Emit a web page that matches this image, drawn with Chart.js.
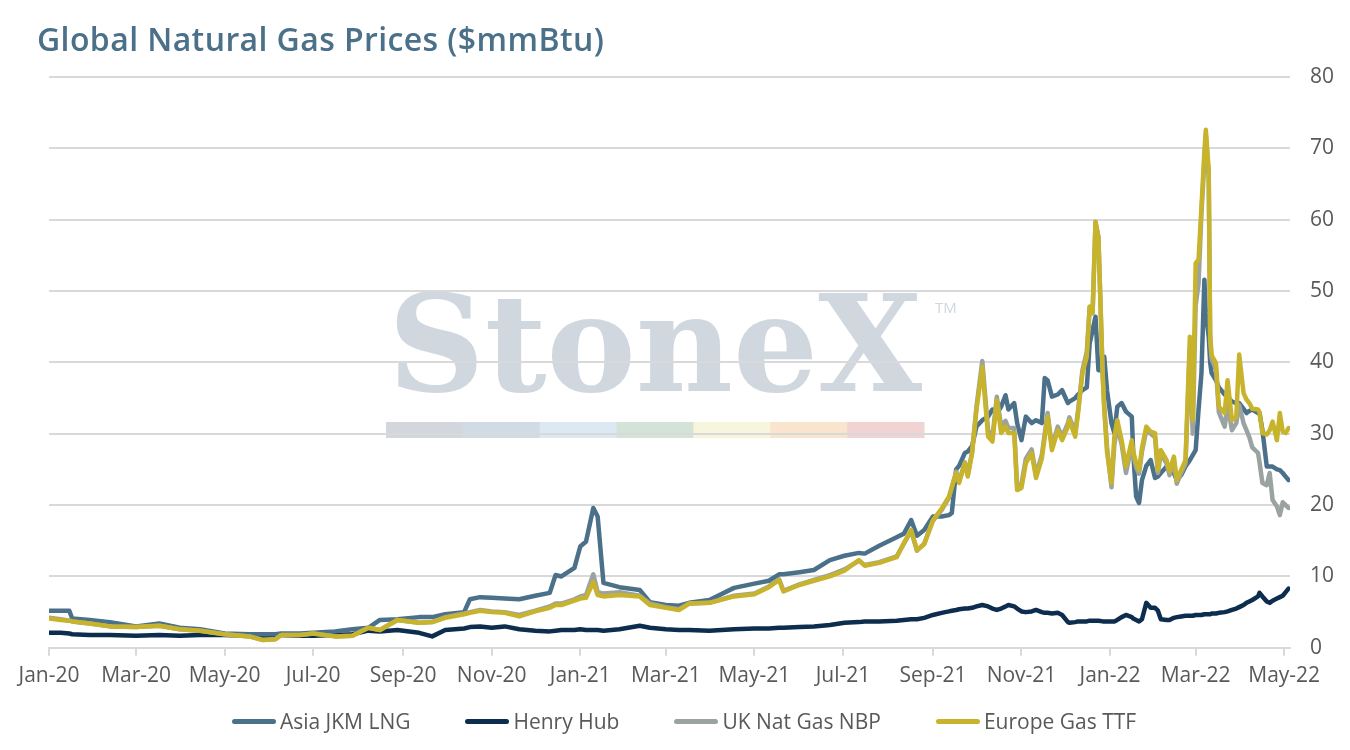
<!DOCTYPE html>
<html>
<head>
<meta charset="utf-8">
<title>Global Natural Gas Prices</title>
<script src="https://cdn.jsdelivr.net/npm/chart.js@4.4.1/dist/chart.umd.min.js"></script>
<style>
    html, body { margin: 0; padding: 0; background: #fff; }
    #wrap { position: relative; width: 1350px; height: 750px; overflow: hidden; }
    #title { position: absolute; left: 37px; top: 17px; font: 600 32px "Open Sans"; letter-spacing: 0.4px; color: #4b7089; white-space: nowrap; }
    #legend { position: absolute; left: 0; width: 1368px; top: 707px; display: flex; justify-content: center; gap: 55px; font: 21px "Open Sans"; color: #595959; }
    #legend .item { display: flex; align-items: center; }
    #legend .swatch { width: 44px; height: 5px; border-radius: 3px; margin-right: 4px; }
</style>
</head>
<body>
<div id="wrap">
    <canvas id="gasChart" width="1350" height="750"></canvas>
    <div id="title">Global Natural Gas Prices ($mmBtu)</div>
    <div id="legend"></div>
</div>
<script>
// tick marks on the date axis
const tickDates = ["2020-01-01", "2020-03-01", "2020-05-01", "2020-07-01", "2020-09-01", "2020-11-01",
    "2021-01-01", "2021-03-01", "2021-05-01", "2021-07-01", "2021-09-01", "2021-11-01",
    "2022-01-01", "2022-03-01", "2022-05-01"];
const tickLabels = ["Jan-20", "Mar-20", "May-20", "Jul-20", "Sep-20", "Nov-20",
    "Jan-21", "Mar-21", "May-21", "Jul-21", "Sep-21", "Nov-21",
    "Jan-22", "Mar-22", "May-22"];

// observation dates (shared by all four series)
const dates = [
    "2020-01-01", "2020-01-09", "2020-01-15", "2020-01-17", "2020-01-29", "2020-02-12", "2020-03-01", "2020-03-17", "2020-03-31", "2020-04-14",
    "2020-05-01", "2020-05-18", "2020-05-27", "2020-06-05", "2020-06-09", "2020-06-22", "2020-07-01", "2020-07-16", "2020-07-28", "2020-08-08",
    "2020-08-16", "2020-08-28", "2020-09-12", "2020-09-21", "2020-09-30", "2020-10-13", "2020-10-17", "2020-10-24", "2020-11-01", "2020-11-10",
    "2020-11-20", "2020-12-01", "2020-12-11", "2020-12-15", "2020-12-19", "2020-12-28", "2021-01-01", "2021-01-05", "2021-01-10", "2021-01-13",
    "2021-01-17", "2021-01-28", "2021-02-11", "2021-02-18", "2021-03-01", "2021-03-10", "2021-03-17", "2021-03-31", "2021-04-17", "2021-05-01",
    "2021-05-11", "2021-05-18", "2021-05-21", "2021-06-01", "2021-06-11", "2021-06-22", "2021-07-02", "2021-07-12", "2021-07-16", "2021-07-26",
    "2021-08-07", "2021-08-12", "2021-08-17", "2021-08-21", "2021-08-26", "2021-09-01", "2021-09-07", "2021-09-12", "2021-09-14", "2021-09-17",
    "2021-09-19", "2021-09-23", "2021-09-25", "2021-09-28", "2021-10-01", "2021-10-05", "2021-10-09", "2021-10-12", "2021-10-15", "2021-10-18",
    "2021-10-21", "2021-10-23", "2021-10-27", "2021-10-29", "2021-11-01", "2021-11-04", "2021-11-08", "2021-11-11", "2021-11-15", "2021-11-17",
    "2021-11-19", "2021-11-22", "2021-11-26", "2021-11-29", "2021-12-03", "2021-12-04", "2021-12-08", "2021-12-10", "2021-12-13", "2021-12-16",
    "2021-12-18", "2021-12-20", "2021-12-22", "2021-12-24", "2021-12-27", "2021-12-28", "2021-12-30", "2022-01-02", "2022-01-04", "2022-01-06",
    "2022-01-09", "2022-01-12", "2022-01-16", "2022-01-17", "2022-01-19", "2022-01-21", "2022-01-23", "2022-01-26", "2022-01-29", "2022-02-01",
    "2022-02-03", "2022-02-05", "2022-02-09", "2022-02-11", "2022-02-14", "2022-02-16", "2022-02-19", "2022-02-22", "2022-02-25", "2022-02-27",
    "2022-03-01", "2022-03-03", "2022-03-05", "2022-03-07", "2022-03-08", "2022-03-10", "2022-03-11", "2022-03-12", "2022-03-15", "2022-03-17",
    "2022-03-21", "2022-03-23", "2022-03-26", "2022-03-29", "2022-03-31", "2022-04-03", "2022-04-05", "2022-04-07", "2022-04-09", "2022-04-13",
    "2022-04-14", "2022-04-16", "2022-04-19", "2022-04-21", "2022-04-23", "2022-04-26", "2022-04-28", "2022-04-30", "2022-05-02", "2022-05-04"
];

// $/mmBtu
const asiaJkm = [
    5.2, 5.2, 5.2, 4.1, 3.9, 3.6, 3.0, 3.4, 2.8, 2.6,
    2.0, 1.9, 1.9, 1.9, 2.0, 2.0, 2.1, 2.3, 2.6, 2.8,
    3.9, 4.0, 4.3, 4.3, 4.7, 5.0, 6.8, 7.1, 7.0, 6.9,
    6.8, 7.3, 7.7, 10.2, 10.0, 11.2, 14.2, 14.9, 19.6, 18.4,
    9.1, 8.5, 8.1, 6.4, 6.0, 5.9, 6.3, 6.7, 8.4, 9.0,
    9.4, 10.3, 10.3, 10.6, 10.9, 12.3, 12.9, 13.3, 13.2, 14.3,
    15.5, 16.0, 17.9, 15.7, 16.5, 18.4, 18.4, 18.6, 18.9, 25.0,
    25.5, 27.3, 27.5, 28.3, 31.0, 31.9, 32.4, 33.4, 32.8, 33.8,
    35.4, 33.4, 34.3, 31.5, 29.1, 32.4, 31.5, 31.9, 31.5, 37.8,
    37.5, 35.2, 35.5, 36.1, 34.3, 34.5, 35.0, 35.5, 36.1, 36.5,
    42.7, 44.5, 46.4, 38.9, 38.9, 40.8, 36.0, 31.5, 30.1, 33.8,
    34.3, 33.1, 32.4, 27.3, 21.2, 20.3, 23.5, 25.5, 26.3, 23.8,
    24.0, 24.5, 25.4, 25.0, 24.5, 23.5, 24.2, 25.4, 26.3, 27.0,
    27.7, 33.4, 38.5, 51.6, 47.0, 43.6, 40.0, 38.5, 37.5, 36.5,
    35.5, 35.2, 34.5, 34.3, 34.3, 33.5, 32.9, 33.2, 33.4, 32.9,
    32.9, 30.5, 25.4, 25.4, 25.4, 25.0, 24.9, 24.5, 24.0, 23.5
];
const henryHub = [
    2.1, 2.1, 2.0, 1.9, 1.8, 1.8, 1.7, 1.8, 1.7, 1.8,
    1.8, 1.7, 1.6, 1.8, 1.8, 1.7, 1.7, 1.8, 1.9, 2.4,
    2.3, 2.5, 2.1, 1.6, 2.5, 2.7, 2.9, 3.0, 2.8, 3.0,
    2.6, 2.4, 2.3, 2.4, 2.5, 2.5, 2.6, 2.5, 2.5, 2.5,
    2.4, 2.6, 3.1, 2.8, 2.6, 2.5, 2.5, 2.4, 2.6, 2.7,
    2.7, 2.8, 2.8, 2.9, 3.0, 3.2, 3.5, 3.6, 3.7, 3.7,
    3.8, 3.9, 4.0, 4.0, 4.2, 4.6, 4.9, 5.1, 5.2, 5.3,
    5.4, 5.5, 5.5, 5.6, 5.8, 6.0, 5.8, 5.5, 5.3, 5.5,
    5.8, 6.0, 5.8, 5.5, 5.1, 5.0, 5.1, 5.3, 5.0, 4.9,
    4.9, 4.8, 4.9, 4.6, 3.6, 3.5, 3.6, 3.7, 3.7, 3.7,
    3.8, 3.8, 3.8, 3.8, 3.7, 3.7, 3.7, 3.7, 3.7, 3.9,
    4.3, 4.6, 4.3, 4.1, 3.9, 3.7, 4.0, 6.3, 5.6, 5.6,
    5.2, 4.0, 3.9, 3.9, 4.2, 4.3, 4.4, 4.5, 4.5, 4.5,
    4.6, 4.6, 4.6, 4.7, 4.7, 4.7, 4.7, 4.8, 4.8, 4.9,
    5.0, 5.1, 5.3, 5.5, 5.7, 6.0, 6.3, 6.5, 6.7, 7.2,
    7.7, 7.2, 6.5, 6.3, 6.6, 6.9, 7.1, 7.3, 7.8, 8.3
];
const ukNbp = [
    4.2, 4.0, 3.8, 3.7, 3.4, 3.0, 2.9, 3.1, 2.6, 2.4,
    1.9, 1.6, 1.1, 1.2, 1.8, 1.8, 2.0, 1.6, 1.7, 2.8,
    2.5, 3.9, 3.5, 3.6, 4.3, 4.8, 5.0, 5.3, 5.1, 5.0,
    4.6, 5.2, 5.8, 6.2, 6.2, 6.8, 7.2, 7.4, 10.3, 7.8,
    7.6, 7.8, 7.3, 6.2, 5.7, 5.4, 6.2, 6.3, 7.3, 7.6,
    8.6, 9.6, 8.0, 8.9, 9.5, 10.2, 11.0, 12.2, 11.6, 12.0,
    12.8, 14.6, 16.4, 13.6, 14.6, 17.8, 19.3, 21.0, 22.5, 24.7,
    23.3, 26.0, 24.3, 27.5, 33.8, 40.2, 30.5, 29.5, 35.2, 31.0,
    31.8, 30.8, 30.8, 22.6, 23.0, 26.5, 27.8, 24.3, 27.0, 30.0,
    32.9, 28.2, 31.0, 29.6, 31.5, 32.3, 30.2, 33.3, 38.9, 41.5,
    47.8, 46.9, 59.7, 57.6, 38.0, 34.0, 28.0, 22.5, 28.5, 31.0,
    28.5, 24.5, 28.5, 27.0, 25.3, 24.4, 27.5, 30.5, 30.0, 29.5,
    24.5, 27.2, 25.8, 24.2, 26.3, 23.0, 24.5, 25.8, 42.0, 30.0,
    48.0, 51.0, 61.0, 68.0, 72.0, 66.0, 43.0, 40.5, 39.0, 33.0,
    31.0, 34.0, 30.5, 31.5, 34.0, 31.5, 30.5, 29.5, 28.1, 27.3,
    26.0, 23.1, 22.8, 24.5, 20.7, 19.8, 18.6, 20.4, 20.0, 19.6
];
const europeTtf = [
    4.1, 3.9, 3.8, 3.7, 3.4, 3.0, 2.9, 3.1, 2.6, 2.4,
    1.9, 1.6, 1.1, 1.2, 1.8, 1.8, 2.0, 1.6, 1.7, 2.8,
    2.5, 3.9, 3.5, 3.6, 4.2, 4.7, 4.9, 5.2, 5.0, 4.9,
    4.4, 5.1, 5.6, 6.0, 6.0, 6.6, 6.9, 7.0, 9.2, 7.4,
    7.2, 7.4, 7.2, 6.0, 5.6, 5.3, 6.2, 6.3, 7.2, 7.5,
    8.5, 9.5, 7.9, 8.8, 9.4, 10.0, 10.8, 12.3, 11.5, 11.9,
    12.7, 14.7, 16.5, 13.7, 14.5, 17.9, 19.5, 21.2, 22.5, 24.5,
    23.1, 25.9, 24.0, 27.3, 33.4, 39.4, 29.6, 28.9, 34.7, 30.1,
    31.0, 30.1, 30.1, 22.1, 22.4, 25.9, 27.3, 23.8, 26.5, 29.5,
    32.4, 27.7, 30.5, 29.1, 31.0, 31.9, 29.6, 32.9, 38.5, 40.8,
    47.8, 46.9, 59.7, 57.6, 38.0, 33.5, 27.3, 23.1, 29.6, 31.9,
    29.1, 25.4, 29.1, 27.5, 25.9, 24.9, 28.0, 31.0, 30.3, 30.1,
    24.9, 27.7, 26.3, 24.7, 26.8, 23.5, 24.9, 26.3, 43.6, 31.9,
    53.9, 54.4, 61.8, 69.5, 72.6, 67.0, 44.0, 41.0, 39.9, 33.8,
    32.9, 37.5, 31.9, 32.4, 41.1, 35.7, 34.8, 34.3, 33.5, 33.4,
    33.0, 30.1, 29.9, 30.5, 31.7, 29.1, 32.9, 30.3, 30.1, 30.8
];

const seriesNames = ["Asia JKM LNG", "Henry Hub", "UK Nat Gas NBP", "Europe Gas TTF"];
const seriesColors = ["#4b7089", "#0c2d4e", "#9aa2a2", "#c8b42c"];
const seriesValues = [asiaJkm, henryHub, ukNbp, europeTtf];
const drawOrder = [2, 3, 1, 0]; // lower = drawn later (on top)

const DAY = 86400000;
const start = Date.parse("2020-01-01");
function dayOf(s) {
    return (Date.parse(s) - start) / DAY;
}
const tickDays = tickDates.map(dayOf);
const xDays = dates.map(dayOf);

const gridGrey = "#d9d9d9";
const textGrey = "#595959";

// faint StoneX logo behind the plot
const watermark = {
    id: "watermark",
    beforeDraw(chart) {
        const ctx = chart.ctx;
        ctx.save();
        ctx.fillStyle = "#d0d7df";
        ctx.font = 'bold 134px "DejaVu Serif"';
        ctx.textBaseline = "alphabetic";
        const w = ctx.measureText("StoneX").width;
        ctx.translate(388, 391);
        ctx.scale(534 / w, 1);
        ctx.fillText("StoneX", 0, 0);
        ctx.restore();

        ctx.save();
        ctx.fillStyle = "#d0d7df";
        ctx.font = '15px "Open Sans"';
        ctx.fillText("TM", 935, 313);
        const bands = ["#d3d7dd", "#d1dbe6", "#dce9f3", "#d4e3d8", "#f8f5dd", "#f9e5cd", "#f1d3d3"];
        const bw = (924 - 386) / bands.length;
        bands.forEach((c, i) => {
            ctx.fillStyle = c;
            ctx.fillRect(386 + i * bw, 422, bw + 0.5, 16);
        });
        ctx.restore();
    }
};

const datasets = seriesNames.map((name, i) => ({
    label: name,
    data: seriesValues[i].map((v, j) => ({ x: xDays[j], y: v })),
    borderColor: seriesColors[i],
    backgroundColor: seriesColors[i],
    borderWidth: 4.5,
    borderJoinStyle: "round",
    borderCapStyle: "round",
    pointRadius: 0,
    pointHoverRadius: 0,
    tension: 0,
    order: drawOrder[i]
}));

new Chart(document.getElementById("gasChart"), {
    type: "line",
    data: { datasets: datasets },
    plugins: [watermark],
    options: {
        responsive: false,
        animation: false,
        layout: { padding: { top: 77, left: 49, right: 16, bottom: 53 } },
        plugins: {
            legend: { display: false },
            title: { display: false },
            tooltip: { enabled: false }
        },
        scales: {
            x: {
                type: "linear",
                min: 0,
                max: 855,
                afterBuildTicks: (scale) => {
                    scale.ticks = tickDays.map(v => ({ value: v }));
                },
                afterFit: (scale) => {
                    scale.paddingLeft = 0;
                    scale.paddingRight = 0;
                },
                ticks: {
                    autoSkip: false,
                    maxRotation: 0,
                    padding: 8,
                    color: textGrey,
                    font: { family: "Open Sans", size: 21 },
                    callback: (value, index) => tickLabels[index]
                },
                grid: { drawOnChartArea: false, drawTicks: true, tickLength: 8, color: gridGrey, lineWidth: 2 },
                border: { display: true, color: gridGrey, width: 2 }
            },
            y: {
                position: "right",
                min: 0,
                max: 80,
                afterFit: (scale) => {
                    scale.width = 44;
                },
                ticks: {
                    stepSize: 10,
                    padding: 20,
                    color: textGrey,
                    font: { family: "Open Sans", size: 21 }
                },
                grid: { color: gridGrey, lineWidth: 2, drawTicks: false },
                border: { display: false }
            }
        }
    }
});

// legend below the axis
const legend = document.getElementById("legend");
seriesNames.forEach((name, i) => {
    const item = document.createElement("div");
    item.className = "item";
    const sw = document.createElement("span");
    sw.className = "swatch";
    sw.style.background = seriesColors[i];
    const label = document.createElement("span");
    label.textContent = name;
    item.appendChild(sw);
    item.appendChild(label);
    legend.appendChild(item);
});
</script>
</body>
</html>
